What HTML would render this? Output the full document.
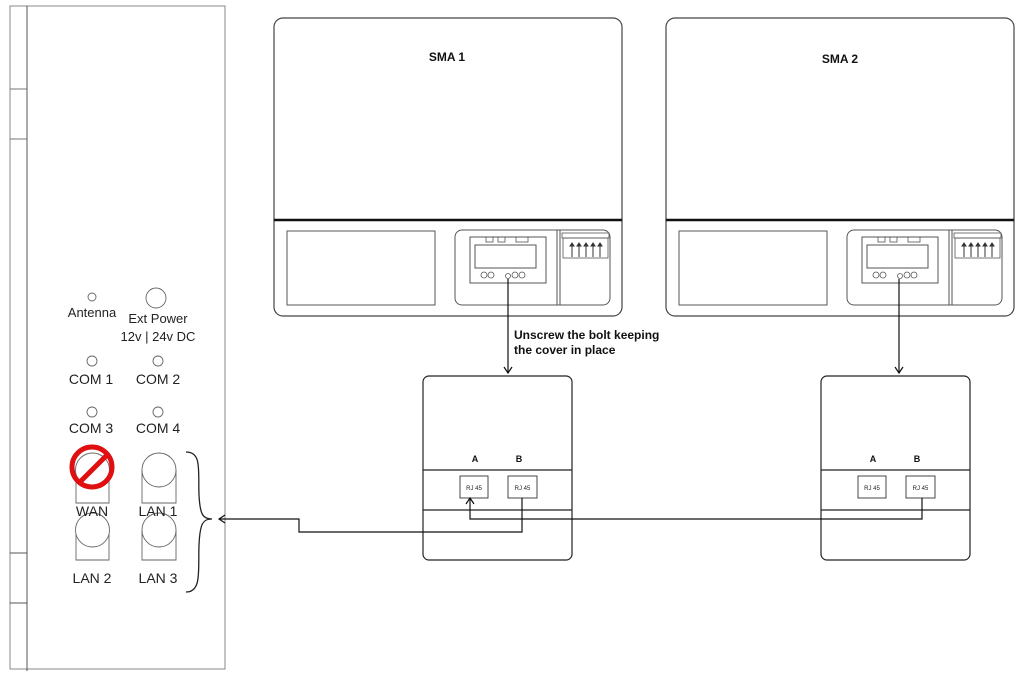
<!DOCTYPE html>
<html><head><meta charset="utf-8"><style>
html,body{margin:0;padding:0;background:#fff;}
svg{display:block;}
text{font-family:"Liberation Sans",sans-serif;}
</style></head><body>
<svg width="1024" height="680" viewBox="0 0 1024 680" xmlns="http://www.w3.org/2000/svg">
<defs>
<g id="sma">
  <rect x="0" y="0" width="348" height="298" rx="9" fill="#fff" stroke="#444" stroke-width="1.2"/>
  <line x1="0" y1="202" x2="348" y2="202" stroke="#111" stroke-width="2.5"/>
  <rect x="13" y="213" width="148" height="74" fill="none" stroke="#555" stroke-width="1"/>
  <rect x="181" y="212" width="155" height="75" rx="7" fill="none" stroke="#555" stroke-width="1"/>
  <line x1="283" y1="212" x2="283" y2="287" stroke="#555" stroke-width="1"/>
  <line x1="286" y1="212" x2="286" y2="287" stroke="#555" stroke-width="1"/>
  <rect x="196" y="219" width="76" height="46" fill="none" stroke="#555" stroke-width="1"/>
  <rect x="201" y="227" width="61" height="23" fill="none" stroke="#555" stroke-width="1"/>
  <rect x="212" y="219" width="7" height="5" fill="none" stroke="#555" stroke-width="0.8"/>
  <rect x="224" y="219" width="7" height="5" fill="none" stroke="#555" stroke-width="0.8"/>
  <rect x="242" y="219" width="12" height="5" fill="none" stroke="#555" stroke-width="0.8"/>
  <circle cx="210" cy="257" r="3" fill="none" stroke="#555" stroke-width="0.8"/>
  <circle cx="217" cy="257" r="3" fill="none" stroke="#555" stroke-width="0.8"/>
  <circle cx="241" cy="257" r="3" fill="none" stroke="#555" stroke-width="0.8"/>
  <circle cx="248" cy="257" r="3" fill="none" stroke="#555" stroke-width="0.8"/>
  <circle cx="234" cy="258" r="2.5" fill="none" stroke="#555" stroke-width="0.8"/>
  <rect x="288" y="215" width="47" height="5" fill="none" stroke="#555" stroke-width="0.8"/>
  <rect x="289" y="220" width="45" height="20" fill="none" stroke="#555" stroke-width="0.8"/>
  <g stroke="#333" stroke-width="1" fill="#333">
    <line x1="298" y1="239" x2="298" y2="227"/><path d="M296,228 L298,225 L300,228z"/>
    <line x1="305" y1="239" x2="305" y2="227"/><path d="M303,228 L305,225 L307,228z"/>
    <line x1="312" y1="239" x2="312" y2="227"/><path d="M310,228 L312,225 L314,228z"/>
    <line x1="319" y1="239" x2="319" y2="227"/><path d="M317,228 L319,225 L321,228z"/>
    <line x1="326" y1="239" x2="326" y2="227"/><path d="M324,228 L326,225 L328,228z"/>
  </g>
</g>
<g id="box">
  <rect x="0" y="0" width="149" height="184" rx="6" fill="#fff" stroke="#222" stroke-width="1.2"/>
  <line x1="0" y1="94" x2="149" y2="94" stroke="#222" stroke-width="1.2"/>
  <line x1="0" y1="134" x2="149" y2="134" stroke="#222" stroke-width="1.2"/>
  <text x="52" y="86" font-size="9" font-weight="bold" text-anchor="middle" fill="#111">A</text>
  <text x="96" y="86" font-size="9" font-weight="bold" text-anchor="middle" fill="#111">B</text>
  <rect x="37" y="100" width="28" height="22" fill="#fff" stroke="#333" stroke-width="0.9"/>
  <rect x="85" y="100" width="29" height="22" fill="#fff" stroke="#333" stroke-width="0.9"/>
  <text x="51" y="114" font-size="6" text-anchor="middle" fill="#222">RJ 45</text>
  <text x="99.5" y="114" font-size="6" text-anchor="middle" fill="#222">RJ 45</text>
</g>
</defs>

<!-- left device -->
<rect x="10" y="6" width="215" height="663" fill="none" stroke="#888" stroke-width="1"/>
<line x1="27" y1="6" x2="27" y2="671" stroke="#555" stroke-width="1"/>
<line x1="10" y1="89" x2="27" y2="89" stroke="#777" stroke-width="1"/>
<line x1="10" y1="139" x2="27" y2="139" stroke="#777" stroke-width="1"/>
<line x1="10" y1="553" x2="27" y2="553" stroke="#555" stroke-width="1"/>
<line x1="10" y1="603" x2="27" y2="603" stroke="#555" stroke-width="1"/>

<g fill="none" stroke="#666" stroke-width="0.9">
  <circle cx="92" cy="297" r="4"/>
  <circle cx="156" cy="298" r="10"/>
  <circle cx="92" cy="361" r="5"/>
  <circle cx="158" cy="361" r="5"/>
  <circle cx="92" cy="412" r="5"/>
  <circle cx="158" cy="412" r="5"/>
  <path d="M76,470 V503 H109 V470"/><circle cx="92.5" cy="470" r="17" fill="#fff"/>
  <path d="M142,470 V503 H176 V470"/><circle cx="159" cy="470" r="17" fill="#fff"/>
  <path d="M76,530 V560 H109 V530"/><circle cx="92.5" cy="530" r="17" fill="#fff"/>
  <path d="M142,530 V560 H176 V530"/><circle cx="159" cy="530" r="17" fill="#fff"/>
</g>
<circle cx="92" cy="467" r="20" fill="none" stroke="#e01010" stroke-width="5"/>
<line x1="80" y1="482" x2="106" y2="456" stroke="#e01010" stroke-width="5"/>
<g font-size="14" fill="#222" text-anchor="middle">
  <text x="92" y="317" font-size="13">Antenna</text>
  <text x="158" y="323" font-size="13">Ext Power</text>
  <text x="158" y="341" font-size="13">12v | 24v DC</text>
  <text x="91" y="384">COM 1</text>
  <text x="158" y="384">COM 2</text>
  <text x="91" y="433">COM 3</text>
  <text x="158" y="433">COM 4</text>
  <text x="92" y="516">WAN</text>
  <text x="158" y="516">LAN 1</text>
  <text x="92" y="583">LAN 2</text>
  <text x="158" y="583">LAN 3</text>
</g>
<path d="M186,452 C202,452 198,470 199,495 C200,515 203,519 212,519 C203,519 200,523 199,545 C198,570 202,592 186,592" fill="none" stroke="#222" stroke-width="1.3"/>

<!-- SMA units -->
<use href="#sma" x="274" y="18"/>
<use href="#sma" x="666" y="18"/>
<text x="447" y="61" font-size="12" font-weight="bold" text-anchor="middle" fill="#111">SMA 1</text>
<text x="840" y="63" font-size="12" font-weight="bold" text-anchor="middle" fill="#111">SMA 2</text>

<!-- boxes -->
<use href="#box" x="423" y="376"/>
<use href="#box" x="821" y="376"/>

<!-- connectors -->
<g fill="none" stroke="#111" stroke-width="1.2">
  <line x1="508" y1="279" x2="508" y2="372"/>
  <path d="M504,367 L508,373 L512,367"/>
  <line x1="899" y1="279" x2="899" y2="372"/>
  <path d="M895,367 L899,373 L903,367"/>
  <path d="M522,498 V532 H299 V519 H219"/>
  <path d="M225,515 L219,519 L225,523"/>
  <path d="M922,498 V519 H470 V499"/>
  <path d="M466,504 L470,498 L474,504"/>
</g>
<text x="514" y="339" font-size="12" font-weight="bold" fill="#111">Unscrew the bolt keeping</text>
<text x="514" y="354" font-size="12" font-weight="bold" fill="#111">the cover in place</text>
</svg>
</body></html>
